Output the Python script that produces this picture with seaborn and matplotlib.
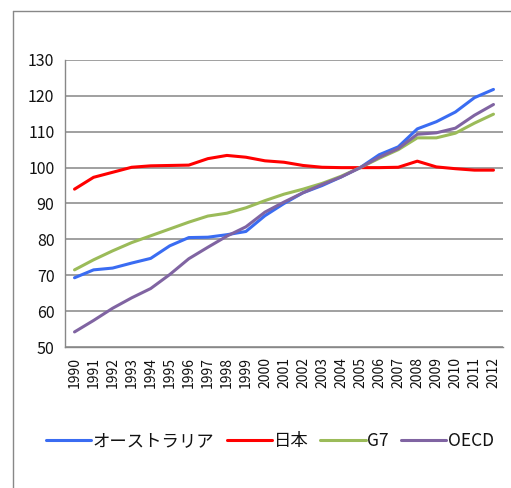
import numpy as np
import pandas as pd
import matplotlib
matplotlib.use('Agg')
import matplotlib.pyplot as plt
from matplotlib.lines import Line2D
import seaborn as sns

years = [str(y) for y in range(1990, 2013)]
series_names = ['オーストラリア', '日本', 'G7', 'OECD']

australia = [69.3, 71.5, 72.0, 73.4, 74.7, 78.2, 80.5, 80.6, 81.3, 82.2, 86.6, 90.0,
             93.0, 95.0, 97.4, 100.0, 103.6, 105.8, 110.8, 112.8, 115.5, 119.5, 121.8]
japan = [94.0, 97.3, 98.7, 100.1, 100.5, 100.6, 100.7, 102.5, 103.4, 102.9, 101.9, 101.5,
         100.6, 100.1, 100.0, 100.0, 100.0, 100.1, 101.8, 100.2, 99.7, 99.3, 99.3]
g7 = [71.5, 74.3, 76.8, 79.1, 81.0, 82.9, 84.8, 86.5, 87.3, 88.8, 90.8, 92.6,
      94.0, 95.6, 97.6, 100.0, 102.6, 105.0, 108.3, 108.3, 109.6, 112.4, 114.9]
oecd = [54.2, 57.4, 60.8, 63.7, 66.3, 70.2, 74.6, 77.8, 80.9, 83.5, 87.6, 90.4,
        93.0, 95.3, 97.4, 100.0, 102.9, 105.3, 109.3, 109.7, 111.0, 114.6, 117.6]

colors = ['#3A6CF2', '#FF0000', '#9BBB59', '#8064A2']

# long table for seaborn
df = pd.DataFrame({
    'idx': list(range(len(years))) * 4,
    'value': australia + japan + g7 + oecd,
    'series': sum([[n] * len(years) for n in series_names], []),
})

sns.set_style('white')
plt.rcParams['font.family'] = ['Noto Sans CJK JP', 'DejaVu Sans']

fig = plt.figure(figsize=(5.11, 4.88), dpi=100)
ax = fig.add_axes([65 / 511, 1 - 347 / 488, (503 - 65) / 511, (347 - 60) / 488])

sns.lineplot(data=df, x='idx', y='value', hue='series', hue_order=series_names,
             palette=colors, linewidth=2.2, ax=ax)

ax.set_xlim(-0.5, len(years) - 0.5)
ax.set_ylim(50, 130)
ax.set_yticks(range(50, 131, 10))
ax.yaxis.grid(True, color='#999999', linewidth=1.3)
ax.set_axisbelow(True)
ax.set_xlabel('')
ax.set_ylabel('')

ax.set_xticks(range(len(years)))
ax.set_xticklabels(years, rotation=90, fontsize=10, color='#111111')
ax.set_xticks(np.arange(-0.5, len(years)), minor=True)
ax.tick_params(axis='x', which='major', length=0, pad=7)
ax.tick_params(axis='x', which='minor', length=3.6, color='#888888', direction='out')
ax.tick_params(axis='y', length=3.6, color='#888888', direction='out', labelsize=11.5,
               pad=4, labelcolor='#111111')

for s in ['top', 'right']:
    ax.spines[s].set_visible(False)
for s in ['left', 'bottom']:
    ax.spines[s].set_color('#888888')
    ax.spines[s].set_linewidth(1.0)

handles = [Line2D([0], [0], color=c, linewidth=2.2) for c in colors]
fig.legend(handles, series_names, loc='center', bbox_to_anchor=(270 / 511, 1 - 441 / 488),
           ncol=4, frameon=False, fontsize=12.5, handlelength=2.6, handletextpad=0.1,
           columnspacing=0.7, labelcolor='#111111')
ax.get_legend().remove()

# outer chart frame (only left and top edges are visible in the crop)
fig.add_artist(Line2D([13 / 511, 13 / 511], [0, 1 - 11 / 488], color='#888888',
                      linewidth=1.0, transform=fig.transFigure))
fig.add_artist(Line2D([13 / 511, 1], [1 - 11 / 488, 1 - 11 / 488], color='#888888',
                      linewidth=1.0, transform=fig.transFigure))

fig.savefig('out.png', dpi=100)
